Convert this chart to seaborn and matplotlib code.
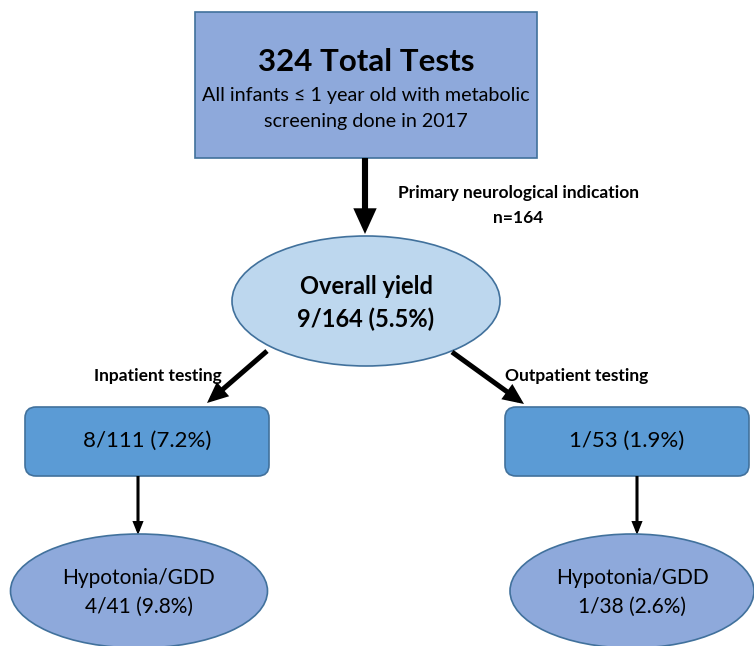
import matplotlib
matplotlib.use("Agg")
import matplotlib.pyplot as plt
from matplotlib.patches import Ellipse, FancyBboxPatch, Rectangle, FancyArrowPatch
import seaborn as sns

# ---- data ----
top_title = "324 Total Tests"
top_sub = ["All infants \u2264 1 year old with metabolic", "screening done in 2017"]
indication_label = ["Primary neurological indication", "n=164"]
overall_label = ["Overall yield", "9/164 (5.5%)"]
branch_labels = ["Inpatient testing", "Outpatient testing"]
branch_values = ["8/111 (7.2%)", "1/53 (1.9%)"]
sub_category = ["Hypotonia/GDD", "Hypotonia/GDD"]
sub_values = ["4/41 (9.8%)", "1/38 (2.6%)"]

sns.set_theme(style="white")
plt.rcParams['font.family'] = ['Lato', 'DejaVu Sans']
plt.rcParams['text.color'] = 'black'

W, H = 754, 646
fig = plt.figure(figsize=(W / 100, H / 100), dpi=100)
ax = fig.add_axes([0, 0, 1, 1])
ax.set_xlim(0, W)
ax.set_ylim(H, 0)
ax.axis("off")

edge = "#41719C"
c_top = "#8EA9DB"
c_oval = "#BDD7EE"
c_box = "#5B9BD5"
c_sub = "#8EA9DB"
K = "black"

# top box
ax.add_patch(Rectangle((195, 12), 342, 146, facecolor=c_top, edgecolor=edge, lw=1.2))
ax.text(366, 62, top_title, ha="center", va="center", fontsize=22.5, fontweight="bold", color=K)
ax.text(366, 96, top_sub[0], ha="center", va="center", fontsize=14.2, color=K)
ax.text(366, 121, top_sub[1], ha="center", va="center", fontsize=14.2, color=K)

def arrow(x0, y0, x1, y1, lw, hw, hl):
    a = FancyArrowPatch((x0, y0), (x1, y1), arrowstyle=f"-|>,head_width={hw},head_length={hl}",
                        lw=lw, color=K, shrinkA=0, shrinkB=0, mutation_scale=1,
                        joinstyle="miter", capstyle="butt")
    ax.add_patch(a)

# main arrow
arrow(365, 158, 365, 234, 4.4, 5, 11)
ax.text(518, 193, indication_label[0], ha="center", va="center", fontsize=12.5, fontweight="bold", color=K)
ax.text(518, 218, indication_label[1], ha="center", va="center", fontsize=12.5, fontweight="bold", color=K)

# overall ellipse
ax.add_patch(Ellipse((366, 301), 268, 130, facecolor=c_oval, edgecolor=edge, lw=1.2))
ax.text(366, 286, overall_label[0], ha="center", va="center", fontsize=17, fontweight="bold", color=K)
ax.text(366, 319, overall_label[1], ha="center", va="center", fontsize=17, fontweight="bold", color=K)

# diagonal arrows
arrow(267, 351, 207, 403, 3.6, 4, 9)
arrow(452, 352, 524, 404, 3.6, 4, 9)
ax.text(222, 376, branch_labels[0], ha="right", va="center", fontsize=12.5, fontweight="bold", color=K)
ax.text(505, 376, branch_labels[1], ha="left", va="center", fontsize=12.5, fontweight="bold", color=K)

# branch boxes
box_x = [25, 505]
box_cx = [147, 627]
for i in range(2):
    ax.add_patch(FancyBboxPatch((box_x[i] + 11, 407 + 11), 244 - 22, 69 - 22,
                                boxstyle="round,pad=11", facecolor=c_box, edgecolor=edge, lw=1.2))
    ax.text(box_cx[i], 441, branch_values[i], ha="center", va="center", fontsize=16, color=K)

# thin arrows + sub ellipses
arr_x = [138, 637]
ell_cx = [139, 632]
ell_w = [257, 244]
for i in range(2):
    arrow(arr_x[i], 476, arr_x[i], 535, 2.2, 2.4, 6)
    ax.add_patch(Ellipse((ell_cx[i], 591), ell_w[i], 114, facecolor=c_sub, edgecolor=edge, lw=1.2))
    ax.text(ell_cx[i], 578, sub_category[i], ha="center", va="center", fontsize=15, color=K)
    ax.text(ell_cx[i], 607, sub_values[i], ha="center", va="center", fontsize=15, color=K)

fig.savefig("out.png", dpi=100)
